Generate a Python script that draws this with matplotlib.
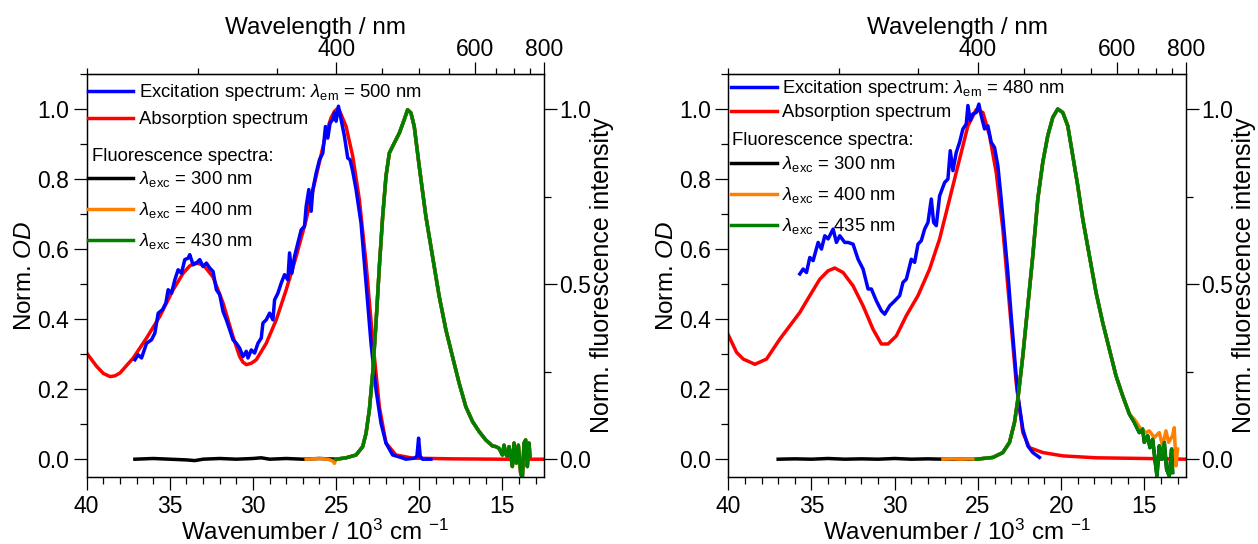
import numpy as np
import matplotlib.pyplot as plt
from matplotlib.lines import Line2D
from matplotlib.ticker import FixedLocator, MultipleLocator

plt.rcParams['font.family'] = ['Liberation Sans', 'DejaVu Sans']
plt.rcParams['mathtext.fontset'] = 'custom'
plt.rcParams['mathtext.rm'] = 'Liberation Sans'
plt.rcParams['mathtext.it'] = 'Liberation Sans:italic'
plt.rcParams['mathtext.bf'] = 'Liberation Sans:bold'

# ---------------- left panel data (wavenumber in 10^3 cm-1) ----------------
abs_k_L = [40.0, 39.4, 39.0, 38.6, 38.3, 38.0, 37.2, 36.4, 35.6, 34.8, 34.2, 33.8, 33.5, 33.2, 32.9, 32.4, 31.8,
           31.2, 30.8, 30.6, 30.4, 30.1, 29.8, 29.2, 28.6, 28.0, 27.4, 26.8, 26.2, 25.6, 25.3, 25.1, 24.95, 24.8,
           24.4, 24.0, 23.6, 23.2, 22.8, 22.4, 22.0, 21.4, 20.4, 18.0, 15.0, 12.5]
abs_L = [0.303, 0.265, 0.245, 0.236, 0.238, 0.246, 0.289, 0.346, 0.408, 0.484, 0.531, 0.552, 0.560, 0.558, 0.550,
         0.520, 0.446, 0.350, 0.293, 0.277, 0.270, 0.274, 0.284, 0.331, 0.398, 0.484, 0.579, 0.684, 0.808, 0.931,
         0.975, 0.993, 1.0, 0.996, 0.950, 0.865, 0.741, 0.560, 0.341, 0.150, 0.046, 0.012, 0.003, 0.001, 0.0, 0.0]

exc_k_L = [37.1, 36.9, 36.7, 36.4, 36.1, 35.9, 35.7, 35.44, 35.24, 35.1, 34.9, 34.7, 34.5, 34.3, 34.1, 33.9, 33.8,
           33.6, 33.4, 33.2, 33.0, 32.8, 32.6, 32.4, 32.2, 32.0, 31.8, 31.6, 31.4, 31.2, 31.0, 30.8, 30.6, 30.4,
           30.3, 30.1, 29.9, 29.7, 29.5, 29.4, 29.2, 29.0, 28.8, 28.7, 28.5, 28.3, 28.1, 27.9, 27.8, 27.66, 27.5,
           27.3, 27.1, 26.9, 26.8, 26.64, 26.5, 26.4, 26.2, 26.0, 25.8, 25.64, 25.5, 25.36, 25.2, 25.1, 25.0,
           24.86, 24.7, 24.5, 24.3, 24.16, 24.0, 23.8, 23.5, 23.3, 23.1, 22.9, 22.6, 22.3, 22.0, 21.6, 21.1, 20.8,
           20.3, 20.14, 20.04, 19.94, 19.8, 19.3]
exc_L = [0.284, 0.298, 0.289, 0.331, 0.341, 0.360, 0.417, 0.427, 0.446, 0.484, 0.474, 0.512, 0.541, 0.531, 0.570,
         0.574, 0.584, 0.555, 0.560, 0.570, 0.550, 0.560, 0.546, 0.536, 0.484, 0.470, 0.422, 0.398, 0.370, 0.341,
         0.331, 0.317, 0.293, 0.308, 0.289, 0.312, 0.303, 0.331, 0.346, 0.389, 0.398, 0.417, 0.398, 0.455, 0.474,
         0.503, 0.527, 0.512, 0.589, 0.531, 0.579, 0.617, 0.655, 0.665, 0.722, 0.770, 0.708, 0.770, 0.817, 0.855,
         0.874, 0.950, 0.917, 0.960, 0.970, 0.989, 0.965, 1.008, 0.970, 0.922, 0.860, 0.855, 0.822, 0.770, 0.674,
         0.560, 0.446, 0.331, 0.198, 0.103, 0.046, 0.012, 0.005, 0.0, 0.003, 0.008, 0.060, 0.008, 0.0, 0.0]

# fluorescence band (shared by the three excitation wavelengths)
flu_k_L = [25.0, 24.4, 23.8, 23.4, 23.2, 23.0, 22.8, 22.6, 22.4, 22.2, 22.0, 21.8, 21.5, 21.2, 20.9, 20.7, 20.5,
           20.3, 20.0, 19.6, 19.2, 18.8, 18.4, 18.0, 17.6, 17.2, 16.8, 16.4, 16.0, 15.6, 15.4, 15.2, 15.1, 15.0,
           14.9, 14.8, 14.7, 14.6, 14.5, 14.4, 14.3, 14.16, 14.04, 13.9, 13.8, 13.7, 13.6, 13.5, 13.4, 13.34]
flu_L = [0.0, 0.004, 0.012, 0.036, 0.074, 0.141, 0.246, 0.389, 0.550, 0.693, 0.808, 0.874, 0.903, 0.931, 0.970,
         0.998, 0.989, 0.950, 0.836, 0.693, 0.579, 0.465, 0.370, 0.293, 0.217, 0.150, 0.108, 0.079, 0.055, 0.038,
         0.036, 0.031, 0.022, 0.012, 0.040, 0.015, 0.008, 0.036, 0.010, -0.021, 0.046, -0.011, 0.040, -0.040,
         -0.054, 0.046, 0.055, -0.021, 0.046, 0.008]
base300_k_L = [37.1, 36.0, 35.0, 34.0, 33.5, 33.0, 32.0, 31.0, 30.0, 29.5, 29.0, 28.0, 27.0, 26.0, 25.5]
base300_L = [0.0, 0.002, 0.0, -0.002, -0.004, 0.0, 0.002, 0.0, 0.002, 0.004, 0.0, 0.002, 0.0, 0.002, 0.001]
base400_k_L = [26.8, 26.0, 25.5, 25.2, 25.1]
base400_L = [0.0, 0.002, 0.0, -0.005, -0.012]

# ---------------- right panel data ----------------
abs_k_R = [40.0, 39.5, 39.1, 38.4, 37.7, 36.9, 36.3, 35.7, 35.1, 34.5, 34.0, 33.6, 33.1, 32.5, 31.9, 31.3, 30.8,
           30.4, 29.9, 29.3, 28.6, 27.9, 27.3, 26.7, 26.1, 25.6, 25.1, 24.7, 24.3, 23.9, 23.5, 23.1, 22.7, 22.3,
           21.9, 21.1, 19.9, 17.9, 14.9, 12.5]
abs_R = [0.355, 0.305, 0.286, 0.271, 0.286, 0.343, 0.381, 0.419, 0.467, 0.514, 0.538, 0.546, 0.533, 0.495, 0.438,
         0.371, 0.329, 0.329, 0.352, 0.410, 0.467, 0.543, 0.629, 0.743, 0.857, 0.952, 0.998, 0.990, 0.924, 0.819,
         0.657, 0.438, 0.219, 0.076, 0.033, 0.019, 0.0095, 0.004, 0.002, 0.0]

exc_k_R = [35.7, 35.5, 35.3, 35.1, 34.9, 34.6, 34.4, 34.2, 34.0, 33.7, 33.5, 33.3, 33.0, 32.8, 32.5, 32.2, 31.9,
           31.6, 31.4, 31.1, 30.8, 30.6, 30.3, 30.0, 29.7, 29.5, 29.3, 29.0, 28.8, 28.6, 28.4, 28.2, 28.0, 27.8,
           27.66, 27.5, 27.3, 27.0, 26.8, 26.66, 26.5, 26.3, 26.1, 25.9, 25.7, 25.6, 25.46, 25.3, 25.1, 24.94, 24.8,
           24.6, 24.4, 24.2, 24.0, 23.8, 23.6, 23.4, 23.2, 23.0, 22.8, 22.6, 22.3, 22.0, 21.7, 21.3]
exc_R = [0.529, 0.543, 0.533, 0.576, 0.567, 0.619, 0.600, 0.638, 0.629, 0.657, 0.619, 0.638, 0.619, 0.619, 0.614,
         0.571, 0.543, 0.486, 0.486, 0.452, 0.424, 0.414, 0.438, 0.452, 0.467, 0.505, 0.514, 0.571, 0.562, 0.614,
         0.624, 0.657, 0.676, 0.743, 0.676, 0.667, 0.752, 0.790, 0.800, 0.881, 0.824, 0.876, 0.905, 0.943, 0.957,
         1.010, 0.967, 0.986, 0.990, 1.014, 0.981, 0.943, 0.952, 0.905, 0.890, 0.838, 0.743, 0.638, 0.533, 0.410,
         0.295, 0.181, 0.086, 0.038, 0.019, 0.005]

flu_k_R = [25.1, 24.1, 23.5, 23.1, 22.8, 22.6, 22.3, 22.0, 21.7, 21.4, 21.1, 20.8, 20.5, 20.2, 19.9, 19.6, 19.3,
           19.0, 18.7, 18.3, 17.9, 17.5, 17.1, 16.7, 16.3, 15.9]
flu_R = [0.0, 0.005, 0.019, 0.048, 0.105, 0.171, 0.295, 0.438, 0.581, 0.743, 0.848, 0.924, 0.976, 1.0, 0.990,
         0.952, 0.867, 0.781, 0.686, 0.581, 0.476, 0.390, 0.314, 0.238, 0.181, 0.129]
tail435_k_R = [15.6, 15.3, 15.1, 15.0, 14.8, 14.66, 14.5, 14.34, 14.24, 14.1, 13.96, 13.8, 13.66, 13.5, 13.36, 13.3]
tail435_R = [0.105, 0.076, 0.086, 0.048, 0.067, 0.033, 0.057, -0.010, -0.048, 0.038, 0.0, 0.048, -0.029, -0.048,
             0.029, -0.038]
tail400_k_R = [15.6, 15.2, 14.9, 14.7, 14.4, 14.1, 13.9, 13.7, 13.54, 13.3, 13.2, 13.1, 13.0]
tail400_R = [0.114, 0.086, 0.076, 0.081, 0.062, 0.076, 0.038, 0.081, 0.048, 0.067, 0.090, -0.019, 0.029]
base300_k_R = [37.0, 36.0, 35.0, 34.0, 33.0, 32.0, 31.0, 30.0, 29.0, 28.0, 27.1]
base300_R = [0.0, 0.001, 0.0, 0.002, 0.0, 0.001, 0.0, 0.002, 0.0, 0.001, 0.0]
base400_k_R = [27.1, 26.5, 26.0, 25.5, 25.1]
base400_R = [0.0, 0.001, 0.0, 0.001, 0.0]

exc_label = ['Excitation spectrum: $\\mathit{\\lambda}_{\\rm em}$ = 500 nm',
             'Excitation spectrum: $\\mathit{\\lambda}_{\\rm em}$ = 480 nm']
exc_wl = [['300', '400', '430'], ['300', '400', '435']]

FS_TICK = 16.5
FS_LAB = 17.5
FS_RLAB = 18
FS_LEG = 13.3
LW = 2.5


def k2nm(k):
    k = np.array(k, dtype=float)
    with np.errstate(divide='ignore'):
        return 1e4 / k


fig = plt.figure(figsize=(12.58, 5.44), dpi=100)
ax_L = fig.add_axes([0.0689, 0.1237, 0.3635, 0.7403])
ax_R = fig.add_axes([0.5789, 0.1237, 0.3638, 0.7403])

# (axes, data..., legend anchors / title position, legend row spacing)
panels = [
    (ax_L, abs_k_L, abs_L, exc_k_L, exc_L,
     base300_k_L + flu_k_L, base300_L + flu_L,
     base400_k_L + flu_k_L, base400_L + flu_L,
     flu_k_L, flu_L, (0.003, 0.980), (0.012, 0.796), (0.003, 0.764), 0.43),
    (ax_R, abs_k_R, abs_R, exc_k_R, exc_R,
     base300_k_R + flu_k_R + tail435_k_R, base300_R + flu_R + tail435_R,
     base400_k_R + flu_k_R + tail400_k_R, base400_R + flu_R + tail400_R,
     flu_k_R + tail435_k_R, flu_R + tail435_R, (0.007, 0.990), (0.008, 0.836), (0.007, 0.801), 0.27),
]

for i, (ax, ak, av, ek, ev, bk, bv, ok, ov, gk, gv, leg1_pos, title_pos, leg2_pos, sp1) in enumerate(panels):
    ax.plot(ak, av, color='#ff0000', lw=LW)
    ax.plot(ek, ev, color='#0000ff', lw=LW)
    ax.set_xlim(40, 12.5)
    ax.set_ylim(-0.05, 1.10)
    ax.xaxis.set_major_locator(MultipleLocator(5))
    ax.xaxis.set_minor_locator(MultipleLocator(1))
    ax.yaxis.set_major_locator(MultipleLocator(0.2))
    ax.yaxis.set_minor_locator(MultipleLocator(0.1))
    ax.yaxis.set_major_formatter(plt.FormatStrFormatter('%.1f'))
    ax.tick_params(which='major', direction='out', length=9.5, width=0.9, labelsize=FS_TICK,
                   top=False, right=False, pad=3)
    ax.tick_params(which='minor', direction='out', length=5, width=0.9, top=False, right=False)
    ax.tick_params(axis='x', which='major', pad=4)
    ax.set_xlabel('Wavenumber / 10$^3$ cm $^{-1}$', fontsize=FS_LAB, labelpad=1)
    ax.set_ylabel('Norm. $\\mathit{OD}$', fontsize=FS_LAB, labelpad=1)

    # fluorescence on the right axis
    axf = ax.twinx()
    axf.plot(bk, bv, color='#000000', lw=LW)
    axf.plot(ok, ov, color='#ff8000', lw=LW)
    axf.plot(gk, gv, color='#008000', lw=LW)
    axf.set_ylim(-0.05, 1.10)
    axf.yaxis.set_major_locator(FixedLocator([0.0, 0.5, 1.0]))
    axf.yaxis.set_minor_locator(FixedLocator([0.25, 0.75]))
    axf.yaxis.set_major_formatter(plt.FormatStrFormatter('%.1f'))
    axf.tick_params(which='major', direction='out', length=9.5, width=0.9, labelsize=FS_TICK, pad=1.5)
    axf.tick_params(which='minor', direction='out', length=5, width=0.9)
    axf.set_ylabel('Norm. fluorescence intensity', fontsize=FS_RLAB, labelpad=-1)

    # wavelength axis on top
    sec = ax.secondary_xaxis('top', functions=(k2nm, k2nm))
    sec.xaxis.set_major_locator(FixedLocator([400, 600, 800]))
    sec.xaxis.set_minor_locator(FixedLocator([250, 300, 350, 450, 500, 550, 650, 700, 750]))
    sec.xaxis.set_major_formatter(plt.FormatStrFormatter('%d'))
    sec.tick_params(which='major', direction='out', length=8.5, width=0.9, labelsize=FS_TICK, pad=1)
    sec.tick_params(which='minor', direction='out', length=4.5, width=0.9)
    sec.set_xlabel('Wavelength / nm', fontsize=FS_LAB, labelpad=3)

    for a in (ax, axf):
        for s in a.spines.values():
            s.set_linewidth(0.9)

    # legends
    h1 = [Line2D([], [], color='#0000ff', lw=LW), Line2D([], [], color='#ff0000', lw=LW)]
    leg1 = axf.legend(h1, [exc_label[i], 'Absorption spectrum'], loc='upper left',
                      bbox_to_anchor=leg1_pos, frameon=False, fontsize=FS_LEG, handlelength=2.45,
                      handletextpad=0.3, labelspacing=sp1, borderaxespad=0, borderpad=0)
    axf.add_artist(leg1)
    axf.text(title_pos[0], title_pos[1], 'Fluorescence spectra:', transform=axf.transAxes,
             fontsize=FS_LEG, ha='left', va='center')
    h2 = [Line2D([], [], color=c, lw=LW) for c in ('#000000', '#ff8000', '#008000')]
    l2 = ['$\\mathit{\\lambda}_{\\rm exc}$ = %s nm' % w for w in exc_wl[i]]
    axf.legend(h2, l2, loc='upper left', bbox_to_anchor=leg2_pos, frameon=False, fontsize=FS_LEG,
               handlelength=2.45, handletextpad=0.3, labelspacing=0.6, borderaxespad=0, borderpad=0)

fig.savefig('out.png', dpi=100)
